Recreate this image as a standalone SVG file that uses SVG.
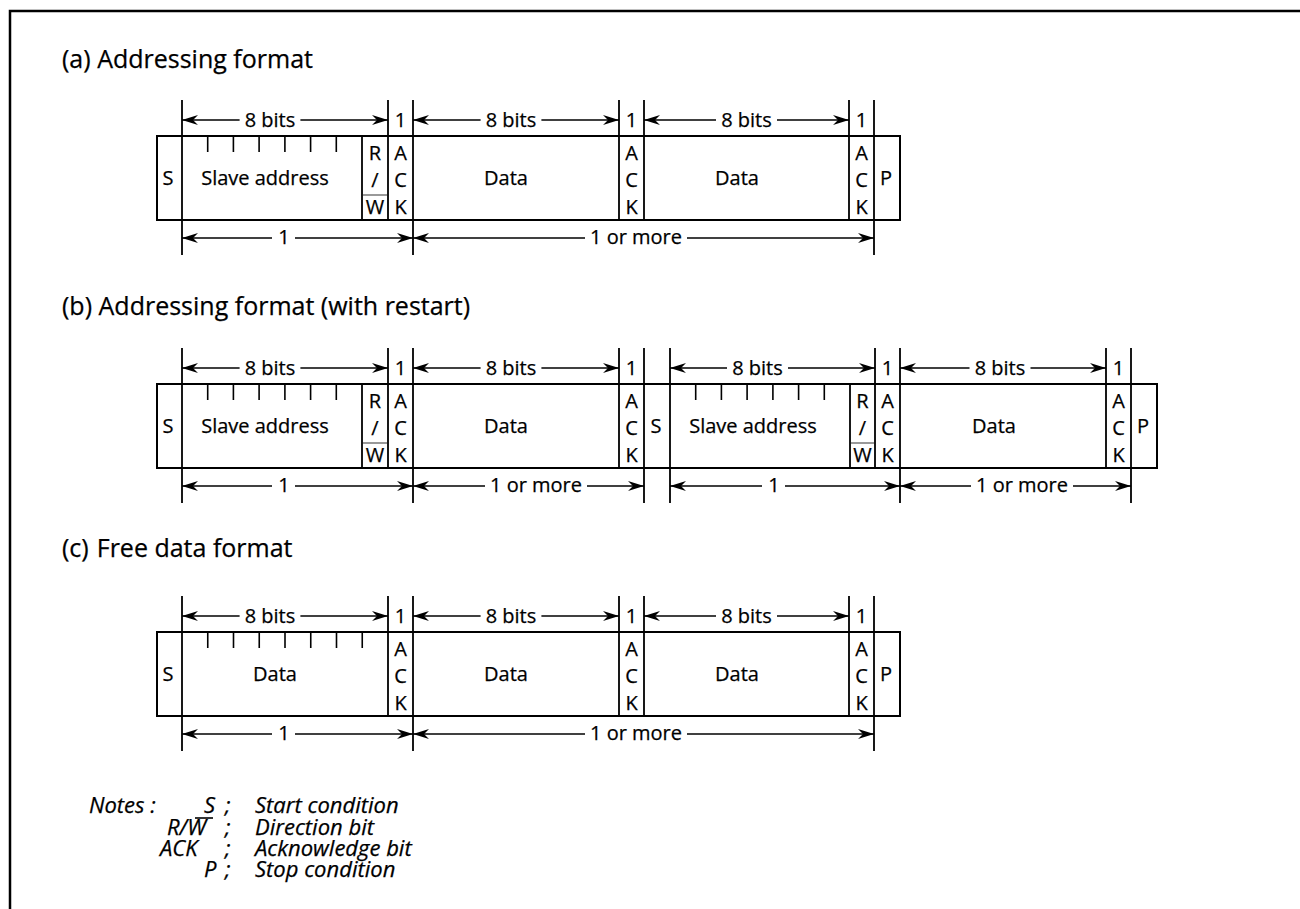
<svg xmlns="http://www.w3.org/2000/svg" width="1300" height="909" viewBox="0 0 1300 909">
<style>
text{font-family:"Open Sans","Liberation Sans",sans-serif;font-size:20px;fill:#000;stroke:#000;stroke-width:0.25}
.c{text-anchor:middle}
.title{font-size:25px}
.note{font-style:italic;font-size:22px}
.bx{fill:#fff;stroke:#000;stroke-width:2}
.ln{stroke:#000;stroke-width:1.8;fill:none}
.tk{stroke:#000;stroke-width:1.6;fill:none}
.ae{stroke:#000;stroke-width:1.6;fill:none;marker-end:url(#ah)}
.ov{stroke:#555;stroke-width:1.2}
</style>
<defs>
<marker id="ah" markerUnits="userSpaceOnUse" markerWidth="18" markerHeight="12" refX="16" refY="5" orient="auto">
<path d="M0,0 L16,5 L0,10 L5,5 z" fill="#000"/>
</marker>
</defs>
<rect width="1300" height="909" fill="#fff"/>
<path d="M10,909 V11 H1300" fill="none" stroke="#000" stroke-width="2.5"/>

<g id="titles">
<text class="title" x="62" y="68">(a) Addressing format</text>
<text class="title" x="62" y="315">(b) Addressing format (with restart)</text>
<text class="title" x="62" y="557">(c)<tspan dx="8">Free data format</tspan></text>
</g>

<!-- (a) -->
<g id="format-a">
<g id="a-frame">
<rect class="bx" x="157" y="136" width="743" height="84"/>
</g>
<g id="a-S"><text class="c" x="168" y="185">S</text></g>
<g id="a-addr">
<path class="tk" d="M207.7,136V152M233.4,136V152M259.1,136V152M284.9,136V152M310.6,136V152M336.3,136V152"/>
<text class="c" x="265" y="185">Slave address</text>
</g>
<g id="a-rw">
<line class="ln" x1="362" y1="136" x2="362" y2="220"/>
<text class="c" x="375" y="160">R</text><text class="c" x="375" y="187">/</text><text class="c" x="375" y="214">W</text>
<line class="ov" x1="363" y1="195" x2="387" y2="195"/>
</g>
<g id="a-ack1"><text class="c" x="400.5" y="160">A</text><text class="c" x="400.5" y="187">C</text><text class="c" x="400.5" y="214">K</text></g>
<g id="a-data1"><text class="c" x="506" y="185">Data</text></g>
<g id="a-ack2"><text class="c" x="631.5" y="160">A</text><text class="c" x="631.5" y="187">C</text><text class="c" x="631.5" y="214">K</text></g>
<g id="a-data2"><text class="c" x="737" y="185">Data</text></g>
<g id="a-ack3"><text class="c" x="861.5" y="160">A</text><text class="c" x="861.5" y="187">C</text><text class="c" x="861.5" y="214">K</text></g>
<g id="a-P"><text class="c" x="886" y="185">P</text></g>
<g id="a-connectors">
<path class="ln" d="M182,100V255M388,100V220M413,100V255M619,100V220M644,100V220M849,100V220M874,100V255"/>
<line class="ae" x1="239.6" y1="120" x2="182" y2="120"/>
<line class="ae" x1="300.4" y1="120" x2="388" y2="120"/>
<text class="c" x="270" y="127">8 bits</text>
<text class="c" x="400.5" y="127">1</text>
<line class="ae" x1="480.6" y1="120" x2="413" y2="120"/>
<line class="ae" x1="541.4" y1="120" x2="619" y2="120"/>
<text class="c" x="511" y="127">8 bits</text>
<text class="c" x="631.5" y="127">1</text>
<line class="ae" x1="716" y1="120" x2="644" y2="120"/>
<line class="ae" x1="777" y1="120" x2="849" y2="120"/>
<text class="c" x="746.5" y="127">8 bits</text>
<text class="c" x="861.5" y="127">1</text>
<line class="ae" x1="272" y1="238" x2="182" y2="238"/>
<line class="ae" x1="295" y1="238" x2="413" y2="238"/>
<text class="c" x="284" y="244">1</text>
<line class="ae" x1="585" y1="238" x2="413" y2="238"/>
<line class="ae" x1="687" y1="238" x2="874" y2="238"/>
<text class="c" x="636" y="244">1 or more</text>
</g>
</g>

<!-- (b) -->
<g id="format-b" transform="translate(0,248)">
<g id="b-frame"><rect class="bx" x="157" y="136" width="1000" height="84"/></g>
<g id="b-S1"><text class="c" x="168" y="185">S</text></g>
<g id="b-addr1">
<path class="tk" d="M207.7,136V152M233.4,136V152M259.1,136V152M284.9,136V152M310.6,136V152M336.3,136V152"/>
<text class="c" x="265" y="185">Slave address</text>
</g>
<g id="b-rw1">
<line class="ln" x1="362" y1="136" x2="362" y2="220"/>
<text class="c" x="375" y="160">R</text><text class="c" x="375" y="187">/</text><text class="c" x="375" y="214">W</text>
<line class="ov" x1="363" y1="195" x2="387" y2="195"/>
</g>
<g id="b-ack1"><text class="c" x="400.5" y="160">A</text><text class="c" x="400.5" y="187">C</text><text class="c" x="400.5" y="214">K</text></g>
<g id="b-data1"><text class="c" x="506" y="185">Data</text></g>
<g id="b-ack2"><text class="c" x="631.5" y="160">A</text><text class="c" x="631.5" y="187">C</text><text class="c" x="631.5" y="214">K</text></g>
<g id="b-S2"><text class="c" x="656" y="185">S</text></g>
<g id="b-addr2">
<path class="tk" d="M695.7,136V152M721.4,136V152M747.1,136V152M772.9,136V152M798.6,136V152M824.3,136V152"/>
<text class="c" x="753" y="185">Slave address</text>
</g>
<g id="b-rw2">
<line class="ln" x1="850" y1="136" x2="850" y2="220"/>
<text class="c" x="862.5" y="160">R</text><text class="c" x="862.5" y="187">/</text><text class="c" x="862.5" y="214">W</text>
<line class="ov" x1="851" y1="195" x2="874" y2="195"/>
</g>
<g id="b-ack3"><text class="c" x="887.5" y="160">A</text><text class="c" x="887.5" y="187">C</text><text class="c" x="887.5" y="214">K</text></g>
<g id="b-data2"><text class="c" x="994" y="185">Data</text></g>
<g id="b-ack4"><text class="c" x="1118.5" y="160">A</text><text class="c" x="1118.5" y="187">C</text><text class="c" x="1118.5" y="214">K</text></g>
<g id="b-P"><text class="c" x="1143" y="185">P</text></g>
<g id="b-connectors">
<path class="ln" d="M182,100V255M388,100V220M413,100V255M619,100V220M644,100V255M670,100V255M875,100V220M900,100V255M1106,100V220M1131,100V255"/>
<line class="ae" x1="239.6" y1="120" x2="182" y2="120"/>
<line class="ae" x1="300.4" y1="120" x2="388" y2="120"/>
<text class="c" x="270" y="127">8 bits</text>
<text class="c" x="400.5" y="127">1</text>
<line class="ae" x1="480.6" y1="120" x2="413" y2="120"/>
<line class="ae" x1="541.4" y1="120" x2="619" y2="120"/>
<text class="c" x="511" y="127">8 bits</text>
<text class="c" x="631.5" y="127">1</text>
<line class="ae" x1="727" y1="120" x2="670" y2="120"/>
<line class="ae" x1="788" y1="120" x2="875" y2="120"/>
<text class="c" x="757.5" y="127">8 bits</text>
<text class="c" x="887.5" y="127">1</text>
<line class="ae" x1="969.5" y1="120" x2="900" y2="120"/>
<line class="ae" x1="1030.5" y1="120" x2="1106" y2="120"/>
<text class="c" x="1000" y="127">8 bits</text>
<text class="c" x="1118.5" y="127">1</text>
<line class="ae" x1="272" y1="238" x2="182" y2="238"/>
<line class="ae" x1="295" y1="238" x2="413" y2="238"/>
<text class="c" x="284" y="244">1</text>
<line class="ae" x1="485" y1="238" x2="413" y2="238"/>
<line class="ae" x1="587" y1="238" x2="644" y2="238"/>
<text class="c" x="536" y="244">1 or more</text>
<line class="ae" x1="762" y1="238" x2="670" y2="238"/>
<line class="ae" x1="785" y1="238" x2="900" y2="238"/>
<text class="c" x="774" y="244">1</text>
<line class="ae" x1="971" y1="238" x2="900" y2="238"/>
<line class="ae" x1="1073" y1="238" x2="1131" y2="238"/>
<text class="c" x="1022" y="244">1 or more</text>
</g>
</g>

<!-- (c) -->
<g id="format-c" transform="translate(0,496)">
<g id="c-frame"><rect class="bx" x="157" y="136" width="743" height="84"/></g>
<g id="c-S"><text class="c" x="168" y="185">S</text></g>
<g id="c-data1">
<path class="tk" d="M207.75,136V152M233.5,136V152M259.25,136V152M285,136V152M310.75,136V152M336.5,136V152M362.25,136V152"/>
<text class="c" x="275" y="185">Data</text>
</g>
<g id="c-ack1"><text class="c" x="400.5" y="160">A</text><text class="c" x="400.5" y="187">C</text><text class="c" x="400.5" y="214">K</text></g>
<g id="c-data2"><text class="c" x="506" y="185">Data</text></g>
<g id="c-ack2"><text class="c" x="631.5" y="160">A</text><text class="c" x="631.5" y="187">C</text><text class="c" x="631.5" y="214">K</text></g>
<g id="c-data3"><text class="c" x="737" y="185">Data</text></g>
<g id="c-ack3"><text class="c" x="861.5" y="160">A</text><text class="c" x="861.5" y="187">C</text><text class="c" x="861.5" y="214">K</text></g>
<g id="c-P"><text class="c" x="886" y="185">P</text></g>
<g id="c-connectors">
<path class="ln" d="M182,100V255M388,100V220M413,100V255M619,100V220M644,100V220M849,100V220M874,100V255"/>
<line class="ae" x1="239.6" y1="120" x2="182" y2="120"/>
<line class="ae" x1="300.4" y1="120" x2="388" y2="120"/>
<text class="c" x="270" y="127">8 bits</text>
<text class="c" x="400.5" y="127">1</text>
<line class="ae" x1="480.6" y1="120" x2="413" y2="120"/>
<line class="ae" x1="541.4" y1="120" x2="619" y2="120"/>
<text class="c" x="511" y="127">8 bits</text>
<text class="c" x="631.5" y="127">1</text>
<line class="ae" x1="716" y1="120" x2="644" y2="120"/>
<line class="ae" x1="777" y1="120" x2="849" y2="120"/>
<text class="c" x="746.5" y="127">8 bits</text>
<text class="c" x="861.5" y="127">1</text>
<line class="ae" x1="272" y1="238" x2="182" y2="238"/>
<line class="ae" x1="295" y1="238" x2="413" y2="238"/>
<text class="c" x="284" y="244">1</text>
<line class="ae" x1="585" y1="238" x2="413" y2="238"/>
<line class="ae" x1="687" y1="238" x2="874" y2="238"/>
<text class="c" x="636" y="244">1 or more</text>
</g>
</g>

<g id="notes">
<text class="note" x="89" y="813">Notes :</text>
<text class="note" x="204" y="813">S</text>
<text class="note" x="167" y="835">R/W</text>
<line x1="195" y1="818" x2="213" y2="818" stroke="#000" stroke-width="1.6"/>
<text class="note" x="160" y="856">ACK</text>
<text class="note" x="204" y="877">P</text>
<text class="note" x="225" y="813">;</text>
<text class="note" x="225" y="835">;</text>
<text class="note" x="225" y="856">;</text>
<text class="note" x="225" y="877">;</text>
<text class="note" x="255" y="813">Start condition</text>
<text class="note" x="255" y="835">Direction bit</text>
<text class="note" x="255" y="856">Acknowledge bit</text>
<text class="note" x="255" y="877">Stop condition</text>
</g>
</svg>
